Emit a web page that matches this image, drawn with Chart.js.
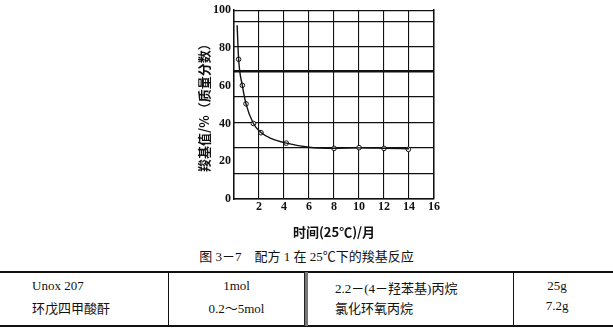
<!DOCTYPE html>
<html>
<head>
<meta charset="utf-8">
<script src="https://cdn.jsdelivr.net/npm/chart.js@4"></script>
<style>
  body { margin: 0; background: #fff; width: 613px; height: 333px; position: relative; overflow: hidden;
         font-family: "Liberation Serif", "Noto Sans CJK SC", serif; color: #111; }
  #wrap { position: absolute; left: 0; top: 0; width: 613px; height: 240px; }
  .abs { position: absolute; white-space: nowrap; font-size: 13px; }
  .hline { position: absolute; left: 0; width: 613px; height: 2px; background: #111; }
  .vline { position: absolute; width: 1px; background: #111; }
</style>
</head>
<body>
<div id="wrap"><canvas id="chart" width="613" height="240"></canvas></div>
<div class="abs" id="caption" style="left:0;width:613px;text-align:center;top:246px;font-size:13px;"></div>
<div class="hline" style="top:271px"></div>
<div class="hline" style="top:325px"></div>
<div class="vline" style="left:168px;top:272px;height:54px"></div>
<div class="vline" style="left:304px;top:272px;height:54px;width:3px;background:#777;border-left:1px solid #222;"></div>
<div class="vline" style="left:513px;top:272px;height:54px"></div>
<div id="table"></div>
<script>
// measured curve through the points (month, carboxyl value %)
const curveMonths = [0.25, 0.37, 0.67, 0.96, 1.55, 2.16, 3, 4.2, 6, 8, 10, 12, 14];
const curveValues = [92, 74, 60, 50.4, 40, 35.2, 32, 29.6, 27.4, 26.9, 27.1, 26.9, 26.6];
// marked measurements
const pointMonths = [0.37, 0.67, 0.96, 1.55, 2.16, 4.18, 8, 10, 12, 13.95];
const pointValues = [74, 60.2, 50.4, 40, 35.1, 29.6, 26.8, 27.2, 26.8, 26.3];
// printed grid lines of the original figure
const gridValues = [0, 13.6, 27, 40.4, 54.2, 67.5, 80.8, 94, 100];
const xTicks = [0, 2, 4, 6, 8, 10, 12, 14, 16];
const yTicks = [0, 20, 40, 60, 80, 100];

const captionText = '图 3－7　配方 1 在 25℃下的羧基反应';
const tableCol1 = ['Unox 207', '环戊四甲酸酐'];
const tableCol2 = ['1mol', '0.2～5mol'];
const tableCol3 = ['2.2－(4－羟苯基)丙烷', '氯化环氧丙烷'];
const tableCol4 = ['25g', '7.2g'];

document.getElementById('caption').textContent = captionText;
const rowTops = [278, 298];
const tbl = document.getElementById('table');
function cell(text, left, top, width, align) {
  const d = document.createElement('div');
  d.className = 'abs';
  d.textContent = text;
  d.style.left = left + 'px';
  d.style.top = top + 'px';
  if (width) { d.style.width = width + 'px'; d.style.textAlign = align; }
  tbl.appendChild(d);
}
rowTops.forEach((t, i) => {
  cell(tableCol1[i], 32, t);
  cell(tableCol2[i], 169, t, 135, 'center');
  cell(tableCol3[i], 335, t);
  cell(tableCol4[i], 514, t, 86, 'center');
});

const tickFont = { family: '"Liberation Serif", serif', size: 12, weight: 'bold' };
const titleFont = { family: '"Noto Sans CJK SC", sans-serif', size: 13, weight: 'bold' };

new Chart(document.getElementById('chart').getContext('2d'), {
  type: 'line',
  data: {
    datasets: [
      {
        data: curveMonths.map((m, i) => ({ x: m, y: curveValues[i] })),
        borderColor: '#111', borderWidth: 1.4, pointRadius: 0,
        cubicInterpolationMode: 'monotone', fill: false
      },
      {
        type: 'scatter',
        data: pointMonths.map((m, i) => ({ x: m, y: pointValues[i] })),
        pointRadius: 2.3, pointBackgroundColor: '#fff', pointBorderColor: '#111', pointBorderWidth: 1,
        showLine: false
      }
    ]
  },
  options: {
    responsive: false,
    animation: false,
    layout: { padding: { left: 196, right: 179, top: 10, bottom: 0 } },
    plugins: { legend: { display: false }, tooltip: { enabled: false } },
    scales: {
      x: {
        type: 'linear', min: 0, max: 16,
        afterBuildTicks: s => { s.ticks = xTicks.map(v => ({ value: v })); },
        afterFit: s => { s.height = 41; },
        grid: { color: '#111', lineWidth: 1.1, drawTicks: false },
        border: { color: '#111', width: 1.5 },
        ticks: { color: '#111', font: tickFont, padding: 1, callback: v => v === 0 ? '' : String(v) },
        title: { display: true, text: '时间(25℃)/月', color: '#111', font: titleFont, padding: { top: 0, bottom: 0 } }
      },
      y: {
        min: 0, max: 100,
        afterBuildTicks: s => { s.ticks = yTicks.map(v => ({ value: v })); },
        afterFit: s => { s.width = 38; },
        grid: { display: false, drawTicks: false },
        border: { color: '#111', width: 1.5 },
        ticks: { color: '#111', font: tickFont, padding: 3, autoSkip: false, callback: v => String(v) },
        title: { display: true, text: '羧基值/%（质量分数）', color: '#111', font: titleFont, padding: { top: 0, bottom: 2 } }
      },
      yg: {
        position: 'right', min: 0, max: 100,
        afterBuildTicks: s => { s.ticks = gridValues.map(v => ({ value: v })); },
        afterFit: s => { s.width = 0; },
        grid: { color: '#111', lineWidth: c => (c.tick && c.tick.value === 67.5 ? 2.4 : 1.3), drawTicks: false },
        border: { color: '#111', width: 1.5 },
        ticks: { display: false }
      }
    }
  }
});
</script>
</body>
</html>
